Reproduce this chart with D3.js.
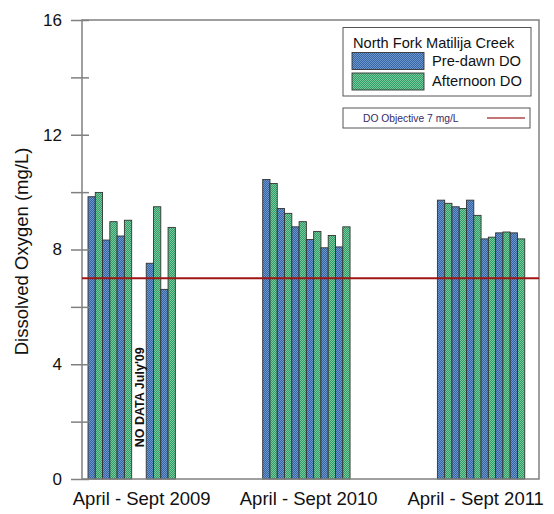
<!DOCTYPE html>
<html>
<head>
<meta charset="utf-8">
<script src="https://cdn.jsdelivr.net/npm/d3@7"></script>
<style>
  html, body { margin: 0; padding: 0; background: #fff; }
  svg { display: block; font-family: "Liberation Sans", Arial, sans-serif; }
</style>
</head>
<body>
<svg id="chart" width="554" height="514"></svg>
<script>
// ---- data ----
const years = ["2009", "2010", "2011"];
const groupLabels = ["April - Sept 2009", "April - Sept 2010", "April - Sept 2011"];
const months = ["Apr", "May", "Jun", "Jul", "Aug", "Sep"];
const predawn2009   = [9.84, 8.33, 8.47, null, 7.52, 6.61];
const afternoon2009 = [9.99, 8.97, 9.02, null, 9.49, 8.77];
const predawn2010   = [10.44, 9.43, 8.79, 8.35, 8.06, 8.09];
const afternoon2010 = [10.30, 9.26, 8.97, 8.63, 8.49, 8.79];
const predawn2011   = [9.72, 9.49, 9.72, 8.37, 8.58, 8.58];
const afternoon2011 = [9.61, 9.43, 9.19, 8.43, 8.61, 8.37];
const seriesNames = ["Pre-dawn DO", "Afternoon DO"];
const yTicks = [0, 2, 4, 6, 8, 10, 12, 14, 16];
const objective = 7;
const legendTitle = "North Fork Matilija Creek";
const objectiveLabel = "DO Objective 7 mg/L";
const noDataLabel = "NO DATA July'09";

const predawn = { "2009": predawn2009, "2010": predawn2010, "2011": predawn2011 };
const afternoon = { "2009": afternoon2009, "2010": afternoon2010, "2011": afternoon2011 };

// ---- setup ----
const svg = d3.select("#chart");
const plot = { left: 82, right: 539, top: 20, bottom: 479 };

const y = d3.scaleLinear().domain([0, 16]).range([plot.bottom, plot.top]);
const groupX = d3.scaleBand().domain(years).range([88, 88 + 3 * 174.7]);
const slotW = groupX.bandwidth() / 24;
const labelX = d3.scalePoint().domain(years).range([141.7, 475.7]);

// patterns
const defs = svg.append("defs");
function makePattern(id, a, b) {
  const p = defs.append("pattern").attr("id", id).attr("patternUnits", "userSpaceOnUse")
    .attr("width", 2).attr("height", 2);
  p.append("rect").attr("width", 2).attr("height", 2).attr("fill", a);
  p.append("rect").attr("width", 1).attr("height", 1).attr("fill", b);
  p.append("rect").attr("x", 1).attr("y", 1).attr("width", 1).attr("height", 1).attr("fill", b);
}
makePattern("pBlue", "#3565a6", "#6d96cb");
makePattern("pGreen", "#2f9d67", "#79c99d");
const fills = ["url(#pBlue)", "url(#pGreen)"];

// bars
const bars = [];
years.forEach(yr => {
  months.forEach((m, i) => {
    [predawn[yr][i], afternoon[yr][i]].forEach((v, s) => {
      if (v != null) bars.push({ yr, i, s, v });
    });
  });
});
svg.append("g").selectAll("rect").data(bars).join("rect")
  .attr("x", d => groupX(d.yr) + (d.i * 2 + d.s) * slotW)
  .attr("y", d => y(d.v))
  .attr("width", slotW)
  .attr("height", d => y(0) - y(d.v))
  .attr("fill", d => fills[d.s])
  .attr("stroke", "#333")
  .attr("stroke-width", 0.9);

// no data label
const jul = months.indexOf("Jul");
const ndx = groupX("2009") + (jul * 2 + 1) * slotW + 5;
svg.append("text")
  .attr("transform", `translate(${ndx},${y(2.85)}) rotate(-90)`)
  .attr("text-anchor", "middle")
  .attr("font-size", 12.5).attr("font-weight", "bold").attr("fill", "#111")
  .text(noDataLabel);

// frame
svg.append("rect")
  .attr("x", plot.left).attr("y", plot.top)
  .attr("width", plot.right - plot.left).attr("height", plot.bottom - plot.top)
  .attr("fill", "none").attr("stroke", "#808080").attr("stroke-width", 1.5);

// objective line
svg.append("line")
  .attr("x1", plot.left).attr("x2", plot.right)
  .attr("y1", y(objective)).attr("y2", y(objective))
  .attr("stroke", "#a01414").attr("stroke-width", 2);

// y axis
const yAxis = d3.axisLeft(y).tickValues(yTicks)
  .tickFormat(d => d % 4 === 0 ? d : "")
  .tickSize(11).tickPadding(9);
const ga = svg.append("g").attr("transform", `translate(${plot.left},0)`).call(yAxis);
ga.select(".domain").remove();
ga.selectAll(".tick line").attr("stroke", "#808080").attr("stroke-width", 1.5).attr("x2", 7).attr("x1", -11);
ga.selectAll(".tick text").attr("font-size", 17).attr("fill", "#111")
  .attr("font-family", "Liberation Sans, Arial, sans-serif");

// y label
svg.append("text")
  .attr("transform", `translate(28,${(plot.top + plot.bottom) / 2 + 2}) rotate(-90)`)
  .attr("text-anchor", "middle").attr("font-size", 18.5).attr("fill", "#111")
  .text("Dissolved Oxygen (mg/L)");

// x labels
svg.append("g").selectAll("text").data(years).join("text")
  .attr("x", d => labelX(d)).attr("y", 505)
  .attr("text-anchor", "middle").attr("font-size", 18.5).attr("fill", "#111")
  .text((d, i) => groupLabels[i]);

// legend
const lg = svg.append("g");
lg.append("rect").attr("x", 343).attr("y", 27.5).attr("width", 188).attr("height", 68.5)
  .attr("fill", "#fff").attr("stroke", "#555").attr("stroke-width", 1);
lg.append("text").attr("x", 353).attr("y", 48).attr("font-size", 14.6).attr("fill", "#111").text(legendTitle);
seriesNames.forEach((n, s) => {
  lg.append("rect").attr("x", 352).attr("y", 52.5 + s * 20.5).attr("width", 72).attr("height", 17)
    .attr("fill", fills[s]).attr("stroke", "#333").attr("stroke-width", 0.9);
  lg.append("text").attr("x", 432).attr("y", 66 + s * 20).attr("font-size", 14.7).attr("fill", "#111").text(n);
});
lg.append("rect").attr("x", 343).attr("y", 108).attr("width", 187).attr("height", 20)
  .attr("fill", "#fff").attr("stroke", "#555").attr("stroke-width", 1);
lg.append("text").attr("x", 363).attr("y", 121.5).attr("font-size", 10.3).attr("fill", "#3a2a66").text(objectiveLabel);
lg.append("line").attr("x1", 487).attr("x2", 525).attr("y1", 118).attr("y2", 118)
  .attr("stroke", "#b04848").attr("stroke-width", 1.5);
</script>
</body>
</html>
